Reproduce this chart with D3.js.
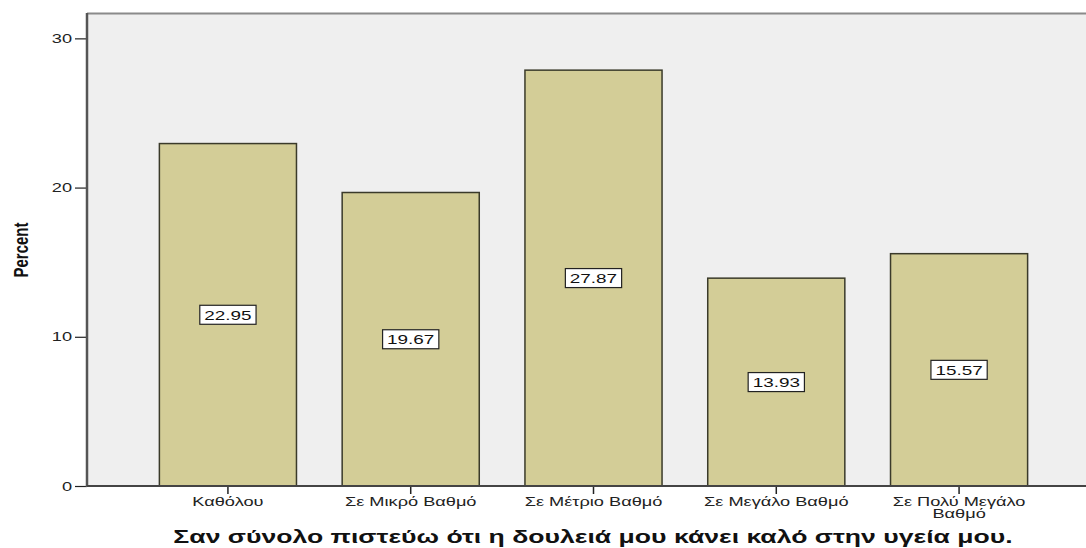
<!DOCTYPE html>
<html>
<head>
<meta charset="utf-8">
<script src="https://cdn.jsdelivr.net/npm/d3@7"></script>
<style>
  html, body { margin: 0; padding: 0; background: #ffffff; }
  svg { display: block; }
  text { font-family: "Liberation Sans", Arial, sans-serif; }
</style>
</head>
<body>
<svg id="chart" width="1086" height="548"></svg>
<script>
// ---- data ----
const categories = [
  ["Καθόλου"],
  ["Σε Μικρό Βαθμό"],
  ["Σε Μέτριο Βαθμό"],
  ["Σε Μεγάλο Βαθμό"],
  ["Σε Πολύ Μεγάλο", "Βαθμό"]
];
const percentValues = [22.95, 19.67, 27.87, 13.93, 15.57];
const yTickValues = [0, 10, 20, 30];
const xTitle = "Σαν σύνολο πιστεύω ότι η δουλειά μου κάνει καλό στην υγεία μου.";
const yTitle = "Percent";

// ---- layout ----
const plot = { left: 87, right: 1100, top: 13, bottom: 486 };
const SX = 1.4; // horizontal stretch of the original rendering

const svg = d3.select("#chart");
const keys = categories.map(c => c.join(" "));

const x = d3.scaleBand()
  .domain(keys)
  .range([plot.left, plot.right])
  .paddingInner(0.25)
  .paddingOuter(0.396);

const y = d3.scaleLinear()
  .domain([0, 31.7])
  .range([plot.bottom, plot.top]);

// plot background
svg.append("rect")
  .attr("x", plot.left).attr("y", plot.top)
  .attr("width", plot.right - plot.left)
  .attr("height", plot.bottom - plot.top)
  .attr("fill", "#efefef");

// top frame line
svg.append("line")
  .attr("x1", plot.left).attr("x2", plot.right)
  .attr("y1", plot.top + 0.5).attr("y2", plot.top + 0.5)
  .attr("stroke", "#8a8a8a").attr("stroke-width", 2);

// bars
svg.append("g").selectAll("rect")
  .data(percentValues)
  .join("rect")
  .attr("x", (d, i) => x(keys[i]))
  .attr("y", d => y(d))
  .attr("width", x.bandwidth())
  .attr("height", d => y(0) - y(d))
  .attr("fill", "#d3cd97")
  .attr("stroke", "#3a3a2a")
  .attr("stroke-width", 1.5);

// helper for stretched text
function stretched(sel, px, py, extra) {
  return sel.attr("transform", `translate(${px},${py}) scale(${SX},1)` + (extra || ""));
}

// value labels
const lg = svg.append("g");
percentValues.forEach((v, i) => {
  const cx = x(keys[i]) + x.bandwidth() / 2;
  const cy = (y(v) + y(0)) / 2;
  const g = lg.append("g");
  const t = g.append("text")
    .attr("text-anchor", "middle")
    .attr("dy", "0.36em")
    .attr("font-size", 13.5)
    .attr("fill", "#111")
    .text(v.toFixed(2));
  stretched(t, cx, cy);
  const w = t.node().getComputedTextLength() * SX + 9;
  g.insert("rect", "text")
    .attr("x", cx - w / 2).attr("y", cy - 9.5)
    .attr("width", w).attr("height", 19)
    .attr("fill", "#ffffff")
    .attr("stroke", "#222")
    .attr("stroke-width", 1.2);
});

// y axis (ticks from the scale, labels stretched)
const yAxis = d3.axisLeft(y).tickValues(yTickValues).tickSize(12).tickFormat("");
const gy = svg.append("g").attr("transform", `translate(${plot.left},0)`).call(yAxis);
gy.select(".domain").remove();
gy.selectAll(".tick line").attr("stroke", "#222").attr("stroke-width", 1.2);
const yl = svg.append("g");
yTickValues.forEach(v => {
  const t = yl.append("text")
    .attr("text-anchor", "end")
    .attr("dy", "0.36em")
    .attr("font-size", 13)
    .attr("fill", "#222")
    .text(v);
  stretched(t, plot.left - 15, y(v));
});

// x axis
const xAxis = d3.axisBottom(x).tickSize(8).tickFormat("");
const gx = svg.append("g").attr("transform", `translate(0,${plot.bottom})`).call(xAxis);
gx.select(".domain").remove();
gx.selectAll(".tick line").attr("stroke", "#222").attr("stroke-width", 1.5);

const xl = svg.append("g");
categories.forEach((lines, i) => {
  const cx = x(keys[i]) + x.bandwidth() / 2;
  lines.forEach((ln, j) => {
    const t = xl.append("text")
      .attr("text-anchor", "middle")
      .attr("font-size", 13)
      .attr("fill", "#222")
      .text(ln);
    stretched(t, cx, 506 + j * 12);
  });
});

// axis lines
svg.append("line")
  .attr("x1", plot.left).attr("x2", plot.left)
  .attr("y1", plot.top).attr("y2", plot.bottom + 1)
  .attr("stroke", "#555").attr("stroke-width", 2.5);
svg.append("line")
  .attr("x1", plot.left).attr("x2", plot.right)
  .attr("y1", plot.bottom).attr("y2", plot.bottom)
  .attr("stroke", "#444").attr("stroke-width", 2);

// axis titles
const xt = svg.append("text")
  .attr("text-anchor", "middle")
  .attr("font-size", 19)
  .attr("font-weight", "bold")
  .attr("fill", "#111")
  .text(xTitle);
stretched(xt, 593, 543);

const yt = svg.append("text")
  .attr("text-anchor", "middle")
  .attr("font-size", 15)
  .attr("font-weight", "bold")
  .attr("fill", "#111")
  .text(yTitle);
stretched(yt, 28, 250, " rotate(-90)");
</script>
</body>
</html>
